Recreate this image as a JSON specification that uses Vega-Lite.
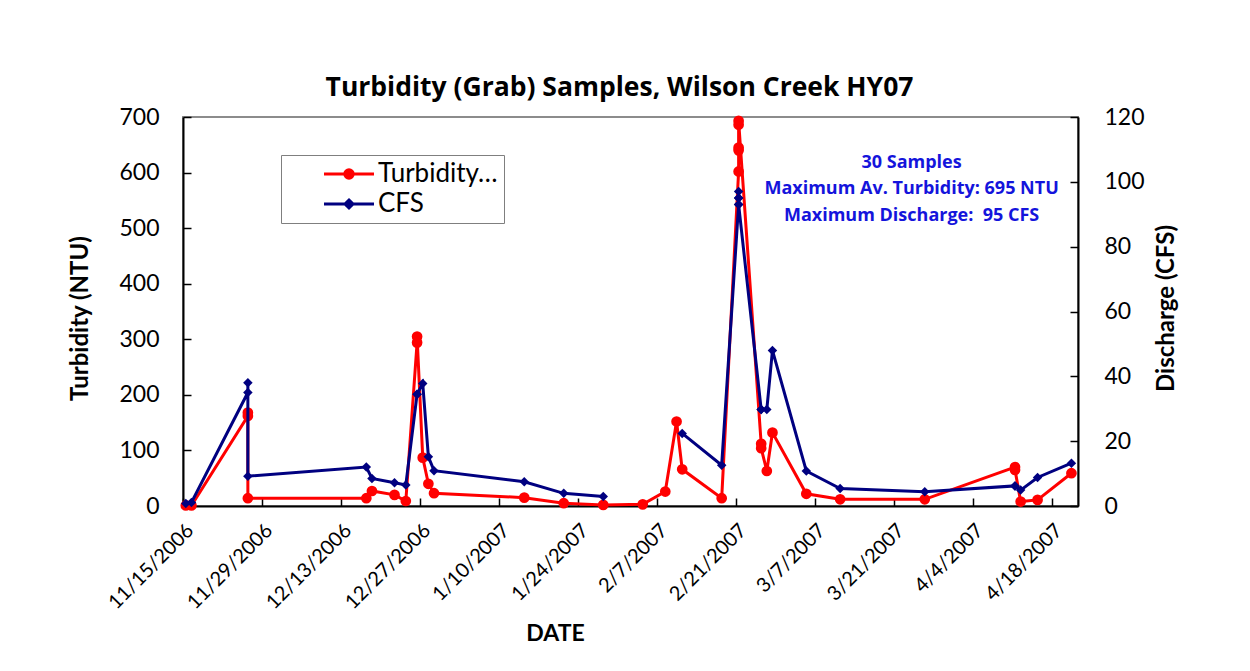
{
  "$schema": "https://vega.github.io/schema/vega-lite/v6.json",
  "width": 895,
  "height": 389,
  "autosize": "none",
  "padding": {"left": 183, "top": 117, "right": 172, "bottom": 165},
  "background": "white",
  "config": {
    "font": "Lato",
    "view": {"stroke": "#8c8c8c", "strokeWidth": 2},
    "axis": {
      "grid": false,
      "domainColor": "black",
      "domainWidth": 2,
      "tickColor": "black",
      "tickWidth": 1.5,
      "labelColor": "black",
      "labelFont": "Lato",
      "labelFontSize": 23,
      "titleFont": "Lato",
      "titleFontSize": 24,
      "titleFontWeight": "bold",
      "titleColor": "black"
    }
  },
  "title": {
    "text": "Turbidity (Grab) Samples, Wilson Creek HY07",
    "font": "Open Sans",
    "fontSize": 26.5,
    "fontWeight": "bold",
    "color": "black",
    "anchor": "middle",
    "dx": -11,
    "offset": 5
  },
  "data": {
    "values": [
      {"seq": 1, "date": "2006-11-15T12:00:00", "turbidity": 1, "cfs": 0.8},
      {"seq": 2, "date": "2006-11-16T12:00:00", "turbidity": 1, "cfs": 1.1},
      {"seq": 3, "date": "2006-11-26T12:00:00", "turbidity": 162, "cfs": 35},
      {"seq": 4, "date": "2006-11-26T12:00:00", "turbidity": 168, "cfs": 38},
      {"seq": 5, "date": "2006-11-26T12:00:00", "turbidity": 14, "cfs": 9.2},
      {"seq": 6, "date": "2006-12-17T12:00:00", "turbidity": 14, "cfs": 12},
      {"seq": 7, "date": "2006-12-18T12:00:00", "turbidity": 27, "cfs": 8.5},
      {"seq": 8, "date": "2006-12-22T12:00:00", "turbidity": 20, "cfs": 7.2},
      {"seq": 9, "date": "2006-12-24T12:00:00", "turbidity": 9, "cfs": 6.5},
      {"seq": 10, "date": "2006-12-26T12:00:00", "turbidity": 294, "cfs": 34.5},
      {"seq": 11, "date": "2006-12-26T12:00:00", "turbidity": 305, "cfs": 34.5},
      {"seq": 12, "date": "2006-12-27T12:00:00", "turbidity": 87, "cfs": 37.8},
      {"seq": 13, "date": "2006-12-28T12:00:00", "turbidity": 40, "cfs": 15.2},
      {"seq": 14, "date": "2006-12-29T12:00:00", "turbidity": 23, "cfs": 10.9},
      {"seq": 15, "date": "2007-01-14T12:00:00", "turbidity": 15, "cfs": 7.5},
      {"seq": 16, "date": "2007-01-21T12:00:00", "turbidity": 5, "cfs": 3.9},
      {"seq": 17, "date": "2007-01-28T12:00:00", "turbidity": 2, "cfs": 2.9},
      {"seq": 18, "date": "2007-02-04T12:00:00", "turbidity": 3, "cfs": null},
      {"seq": 19, "date": "2007-02-08T12:00:00", "turbidity": 26, "cfs": null},
      {"seq": 20, "date": "2007-02-10T12:00:00", "turbidity": 152, "cfs": null},
      {"seq": 21, "date": "2007-02-11T12:00:00", "turbidity": 66, "cfs": 22.4},
      {"seq": 22, "date": "2007-02-18T12:00:00", "turbidity": 14, "cfs": 12.6},
      {"seq": 23, "date": "2007-02-21T12:00:00", "turbidity": 602, "cfs": 93},
      {"seq": 24, "date": "2007-02-21T12:00:00", "turbidity": 640, "cfs": 95},
      {"seq": 25, "date": "2007-02-21T12:00:00", "turbidity": 645, "cfs": 97},
      {"seq": 26, "date": "2007-02-21T12:00:00", "turbidity": 686, "cfs": 95},
      {"seq": 27, "date": "2007-02-21T12:00:00", "turbidity": 693, "cfs": 93},
      {"seq": 28, "date": "2007-02-25T12:00:00", "turbidity": 112, "cfs": 29.8},
      {"seq": 29, "date": "2007-02-25T12:00:00", "turbidity": 104, "cfs": 29.8},
      {"seq": 30, "date": "2007-02-26T12:00:00", "turbidity": 63, "cfs": 29.8},
      {"seq": 31, "date": "2007-02-27T12:00:00", "turbidity": 132, "cfs": 48},
      {"seq": 32, "date": "2007-03-05T12:00:00", "turbidity": 22, "cfs": 10.8},
      {"seq": 33, "date": "2007-03-11T12:00:00", "turbidity": 12, "cfs": 5.4},
      {"seq": 34, "date": "2007-03-26T12:00:00", "turbidity": 12, "cfs": 4.4},
      {"seq": 35, "date": "2007-04-11T12:00:00", "turbidity": 70, "cfs": 6.2},
      {"seq": 36, "date": "2007-04-11T12:00:00", "turbidity": 65, "cfs": 6.2},
      {"seq": 37, "date": "2007-04-12T12:00:00", "turbidity": 8, "cfs": 4.9},
      {"seq": 38, "date": "2007-04-15T12:00:00", "turbidity": 11, "cfs": 8.8},
      {"seq": 39, "date": "2007-04-21T12:00:00", "turbidity": 59, "cfs": 13.2}
    ]
  },
  "resolve": {"scale": {"y": "independent"}},
  "layer": [
    {
      "mark": {
        "type": "line",
        "strokeWidth": 3,
        "point": {"filled": true, "shape": "circle", "size": 115, "opacity": 1}
      },
      "encoding": {
        "x": {
          "field": "date",
          "type": "temporal",
          "scale": {"domain": [{"year": 2006, "month": 11, "date": 15}, {"year": 2007, "month": 4, "date": 22, "hours": 16}]},
          "axis": {
            "title": "DATE",
            "values": [
              {"year": 2006, "month": 11, "date": 15},
              {"year": 2006, "month": 11, "date": 29},
              {"year": 2006, "month": 12, "date": 13},
              {"year": 2006, "month": 12, "date": 27},
              {"year": 2007, "month": 1, "date": 10},
              {"year": 2007, "month": 1, "date": 24},
              {"year": 2007, "month": 2, "date": 7},
              {"year": 2007, "month": 2, "date": 21},
              {"year": 2007, "month": 3, "date": 7},
              {"year": 2007, "month": 3, "date": 21},
              {"year": 2007, "month": 4, "date": 4},
              {"year": 2007, "month": 4, "date": 18}
            ],
            "format": "%-m/%-d/%Y",
            "labelAngle": -45,
            "labelFontSize": 20,
            "tickSize": -8,
            "labelPadding": 22,
            "labelOverlap": false,
            "titleFontSize": 23,
            "titleX": 372,
            "titleY": 127,
            "titleBaseline": "middle"
          }
        },
        "y": {
          "field": "turbidity",
          "type": "quantitative",
          "scale": {"domain": [0, 700], "nice": false},
          "axis": {
            "title": "Turbidity (NTU)",
            "orient": "left",
            "values": [0, 100, 200, 300, 400, 500, 600, 700],
            "tickSize": -8,
            "labelPadding": 32,
            "titleX": -103,
            "titleY": 201,
            "titleBaseline": "middle"
          }
        },
        "order": {"field": "seq", "type": "quantitative"},
        "color": {
          "datum": "Turbidity…",
          "type": "nominal",
          "scale": {"domain": ["Turbidity…", "CFS"], "range": ["#ff0000", "#000080"]},
          "legend": {
            "title": null,
            "orient": "none",
            "legendX": 98,
            "legendY": 38,
            "strokeColor": "#7f7f7f",
            "fillColor": "white",
            "padding": 6,
            "labelFont": "Lato",
            "labelFontSize": 26,
            "labelColor": "black",
            "labelOffset": 16,
            "symbolOffset": 49,
            "symbolSize": 400,
            "rowPadding": 4,
            "encode": {
              "symbols": {
                "update": {
                  "shape": {"signal": "datum.value === 'CFS' ? 'M-2.5,0L2.5,0M0,-0.4L0.4,0L0,0.4L-0.4,0Z' : 'M-2.5,0L2.5,0M-0.42,0A0.42,0.42,0,1,0,0.42,0A0.42,0.42,0,1,0,-0.42,0Z'"},
                  "fill": {"signal": "datum.value === 'CFS' ? '#000080' : '#ff0000'"},
                  "stroke": {"signal": "datum.value === 'CFS' ? '#000080' : '#ff0000'"},
                  "strokeWidth": {"value": 3},
                  "opacity": {"value": 1}
                }
              }
            }
          }
        }
      }
    },
    {
      "mark": {
        "type": "line",
        "strokeWidth": 3,
        "invalid": "break-paths-show-domains",
        "point": {"filled": true, "shape": "diamond", "size": 90, "opacity": 1}
      },
      "encoding": {
        "x": {"field": "date", "type": "temporal"},
        "y": {
          "field": "cfs",
          "type": "quantitative",
          "scale": {"domain": [0, 120], "nice": false},
          "axis": {
            "title": "Discharge (CFS)",
            "orient": "right",
            "values": [0, 20, 40, 60, 80, 100, 120],
            "tickSize": -8,
            "labelPadding": 34,
            "titleAngle": 270,
            "titleX": 88,
            "titleY": 191,
            "titleBaseline": "middle"
          }
        },
        "order": {"field": "seq", "type": "quantitative"},
        "color": {"datum": "CFS", "type": "nominal"}
      }
    },
    {
      "data": {"values": [{"note": ["30 Samples", "Maximum Av. Turbidity: 695 NTU", "Maximum Discharge: \u00a095 CFS"]}]},
      "mark": {
        "type": "text",
        "lineHeight": 26.5,
        "font": "Open Sans",
        "fontSize": 18,
        "fontWeight": "bold",
        "fill": "#1414dc",
        "align": "center",
        "baseline": "top"
      },
      "encoding": {
        "x": {"datum": {"year": 2007, "month": 3, "date": 24, "hours": 4}, "type": "temporal"},
        "y": {"datum": 634, "type": "quantitative", "scale": {"domain": [0, 700], "nice": false}, "axis": null},
        "text": {"field": "note"}
      }
    }
  ]
}
